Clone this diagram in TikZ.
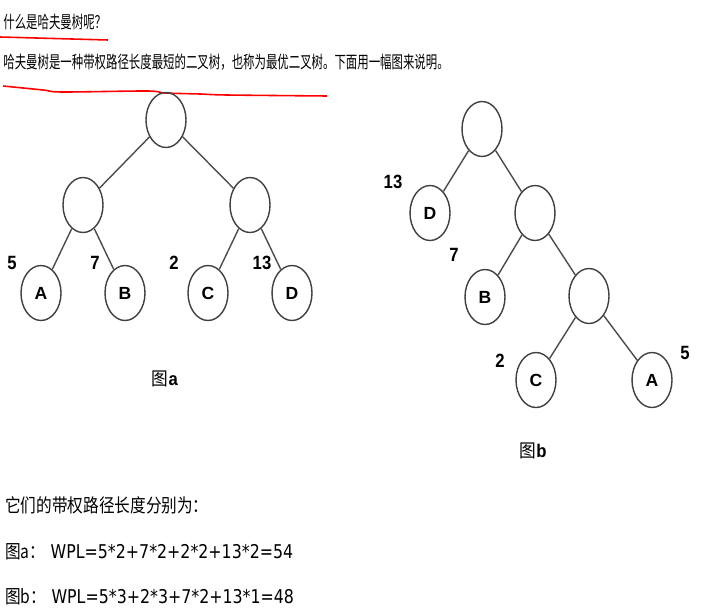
\documentclass[tikz,border=0pt]{standalone}
\usepackage{fontspec}
\setmainfont{Liberation Sans}
\newfontfamily\cjk{Noto Sans CJK SC}
\newfontfamily\wplfont{DejaVu Sans}
\usetikzlibrary{shapes.geometric}
\tikzset{
  vnode/.style={ellipse, draw=black!75, line width=0.8pt, minimum width=0.8cm, minimum height=1.1cm, inner sep=0pt,
    font=\fontsize{10}{11}\selectfont\bfseries},
  edge/.style={draw=black!70, line width=0.8pt},
  weight/.style={inner sep=0pt, font=\fontsize{9.5}{11}\selectfont\bfseries, yscale=1.15},
  caption/.style={inner sep=0pt, font=\fontsize{9.5}{11}\selectfont, yscale=1.1},
  body/.style={anchor=west, inner sep=0pt, font=\cjk\fontsize{6.5}{7}\selectfont, yscale=1.5},
  sumtext/.style={anchor=west, inner sep=0pt, font=\cjk\fontsize{8.9}{9}\selectfont, yscale=1.2},
  redline/.style={draw=red, line width=0.9pt}
}
\newcommand{\wplpart}[1]{{\wplfont\fontsize{9}{9}\selectfont #1}}
\begin{document}
\begin{tikzpicture}[x=0.02cm, y=-0.02cm]
  \useasboundingbox (0,0) rectangle (712,611);
  % heading and intro
  \node (title) at (3,22) [body] {什么是哈夫曼树呢？};
  \node (intro) at (3,62) [body] {哈夫曼树是一种带权路径长度最短的二叉树，也称为最优二叉树。下面用一幅图来说明。};
  \draw[redline] (0,37) -- (108,40);
  \draw[redline] plot[smooth] coordinates {(3,86) (43,90) (62,92) (147,91) (165,93) (200,94) (227,95) (327,96)};
  \begin{scope}
    % tree a
    \node (ra) at (166,120) [vnode] {};
    \node (la) at (83,205) [vnode] {};
    \node (ma) at (250,205) [vnode] {};
    \foreach \i/\j in {41/A, 125/B, 208/C, 292/D} {
      \node (a\j) at (\i,293) [vnode] {\j};
    }
    \draw[edge] (ra) -- (la);
    \draw[edge] (ra) -- (ma);
    \draw[edge] (la) -- (aA);
    \draw[edge] (la) -- (aB);
    \draw[edge] (ma) -- (aC);
    \draw[edge] (ma) -- (aD);
    \foreach \i/\j in {12/5, 95/7, 174/2, 262/13} {
      \node (wa\j) at (\i,263) [weight] {\j};
    }
    \node (capa) at (165,379) [caption] {{\cjk 图}\textbf{a}};
  \end{scope}
  \begin{scope}
    % tree b
    \node (rb) at (482,129) [vnode] {};
    \node (bD) at (430,213) [vnode] {D};
    \node (mb) at (535,213) [vnode] {};
    \node (bB) at (485,297) [vnode] {B};
    \node (nb) at (589,296) [vnode] {};
    \node (bC) at (536,380) [vnode] {C};
    \node (bA) at (652,380) [vnode] {A};
    \draw[edge] (rb) -- (bD);
    \draw[edge] (rb) -- (mb);
    \draw[edge] (mb) -- (bB);
    \draw[edge] (mb) -- (nb);
    \draw[edge] (nb) -- (bC);
    \draw[edge] (nb) -- (bA);
    \foreach \i/\k/\j in {393/182/13, 454/255/7, 500/361/2, 685/353/5} {
      \node (wb\j) at (\i,\k) [weight] {\j};
    }
    \node (capb) at (533,451) [caption] {{\cjk 图}\textbf{b}};
  \end{scope}
  % sums
  \node (sums) at (5,505) [sumtext] {它们的带权路径长度分别为：};
  \node (wpla) at (5,552) [sumtext] {图a：\hspace{3pt}\wplpart{WPL=5*2+7*2+2*2+13*2=54}};
  \node (wplb) at (5,597) [sumtext] {图b：\hspace{3pt}\wplpart{WPL=5*3+2*3+7*2+13*1=48}};
\end{tikzpicture}
\end{document}
